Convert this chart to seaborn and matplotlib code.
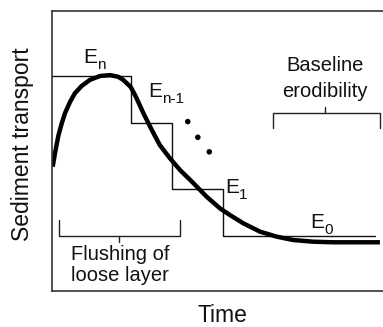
import matplotlib
matplotlib.use("Agg")
import matplotlib.pyplot as plt
import seaborn as sns
import pandas as pd

# ---- data (arbitrary units) ----
curve_time = [0.02, 0.09, 0.19, 0.29, 0.39, 0.54, 0.68, 0.88, 1.13, 1.43, 1.73,
              1.97, 2.12, 2.34, 2.50, 2.72, 2.97, 3.21, 3.51, 3.81, 4.21, 4.60,
              5.00, 5.30, 5.69, 6.19, 6.69, 7.18, 7.78, 8.37, 9.76]
curve_transport = [4.44, 4.93, 5.55, 5.99, 6.36, 6.76, 7.06, 7.32, 7.54, 7.68, 7.71,
                   7.65, 7.54, 7.29, 6.93, 6.35, 5.75, 5.21, 4.74, 4.32, 3.85, 3.37,
                   2.95, 2.71, 2.42, 2.12, 1.94, 1.82, 1.76, 1.74, 1.74]

step_edges = [0.0, 2.34, 3.56, 5.10, 9.61]
step_levels = [7.68, 6.01, 3.64, 1.96, 1.96]

step_labels = ["n", "n-1", "1", "0"]
step_label_x = [0.92, 2.86, 5.15, 7.68]
step_label_y = [8.14, 6.93, 3.50, 2.25]

dots_x = [4.04, 4.34, 4.68]
dots_y = [6.05, 5.49, 4.97]

sns.set_theme(style="white")
plt.rcParams["font.family"] = ["Liberation Sans", "DejaVu Sans"]

fig = plt.figure(figsize=(3.83, 3.27), dpi=100)
ax = fig.add_axes([52 / 383, 36 / 327, 336 / 383, 280 / 327])

curve_df = pd.DataFrame({"t": curve_time, "s": curve_transport})
step_df = pd.DataFrame({"t": step_edges, "s": step_levels})

sns.lineplot(data=step_df, x="t", y="s", ax=ax, color="#111111", lw=1.0,
             drawstyle="steps-post", estimator=None, sort=False)
sns.lineplot(data=curve_df, x="t", y="s", ax=ax, color="black", lw=3.2,
             estimator=None, sort=False, solid_capstyle="butt",
             solid_joinstyle="round")
sns.scatterplot(x=dots_x, y=dots_y, ax=ax, color="black", s=16, edgecolor="none")

ax.set_xlim(0, 10)
ax.set_ylim(0, 10)
ax.set_xticks([])
ax.set_yticks([])
ax.set_xlabel("")
ax.set_ylabel("")
for side in ["left", "top", "bottom"]:
    ax.spines[side].set_color("#333333")
    ax.spines[side].set_linewidth(1.2)
ax.spines["right"].set_visible(False)

# step labels E_n etc.
for lab, x, y in zip(step_labels, step_label_x, step_label_y):
    ax.text(x, y, "E", fontsize=15, color="#111111", ha="left", va="baseline")
    ax.annotate(lab, xy=(x, y), xytext=(10.3, -4.5), textcoords="offset points",
                fontsize=11, color="#111111", ha="left", va="baseline")

# brackets
bc = "#222222"
ax.plot([6.58, 6.58, 9.76, 9.76], [5.82, 6.36, 6.36, 5.82], color=bc, lw=1.0)
ax.plot([8.12, 8.12], [6.36, 6.57], color=bc, lw=1.0)
ax.plot([0.21, 0.21, 3.81, 3.81], [2.54, 1.96, 1.96, 2.54], color=bc, lw=1.0)
ax.plot([2.0, 2.0], [1.96, 1.75], color=bc, lw=1.0)

ax.text(8.12, 7.86, "Baseline", fontsize=14.5, ha="center", va="baseline", color="#111111")
ax.text(8.12, 6.93, "erodibility", fontsize=14.5, ha="center", va="baseline", color="#111111")
ax.text(2.03, 1.11, "Flushing of", fontsize=14.5, ha="center", va="baseline", color="#111111")
ax.text(2.03, 0.36, "loose layer", fontsize=14.5, ha="center", va="baseline", color="#111111")

fig.text(222 / 383, 1 - 322 / 327, "Time", fontsize=16.5, ha="center", va="baseline",
         color="#111111")
fig.text(23 / 383, 1 - 144 / 327, "Sediment transport", fontsize=16.5, rotation=90,
         ha="center", va="center", color="#111111")

fig.savefig("out.png", dpi=100)
